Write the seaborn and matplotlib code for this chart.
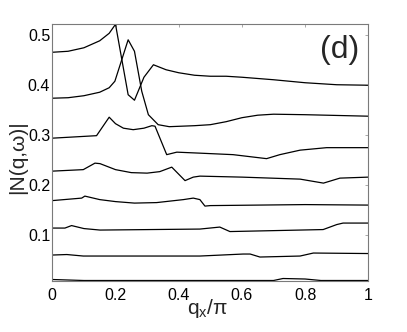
import numpy as np
import pandas as pd
import matplotlib
matplotlib.use("Agg")
import matplotlib.pyplot as plt
import seaborn as sns

# ---- data ----
x1 = [0.0, 0.05, 0.10, 0.15, 0.18, 0.20, 0.24, 0.26, 0.29, 0.32, 0.36, 0.40, 0.45, 0.50, 0.55, 0.60, 0.70, 0.80, 0.90, 1.0]
y1 = [0.465, 0.467, 0.474, 0.488, 0.503, 0.521, 0.380, 0.369, 0.415, 0.440, 0.430, 0.424, 0.419, 0.417, 0.417, 0.415, 0.410, 0.404, 0.400, 0.399]

x2 = [0.0, 0.05, 0.10, 0.15, 0.18, 0.198, 0.24, 0.26, 0.283, 0.304, 0.335, 0.37, 0.45, 0.50, 0.55, 0.60, 0.65, 0.70, 0.80, 1.0]
y2 = [0.373, 0.374, 0.378, 0.385, 0.394, 0.407, 0.490, 0.467, 0.387, 0.340, 0.320, 0.316, 0.318, 0.320, 0.326, 0.334, 0.339, 0.341, 0.340, 0.337]

x3 = [0.0, 0.14, 0.18, 0.20, 0.225, 0.256, 0.29, 0.315, 0.325, 0.362, 0.394, 0.467, 0.572, 0.678, 0.72, 0.784, 0.868, 1.0]
y3 = [0.293, 0.298, 0.335, 0.322, 0.313, 0.310, 0.313, 0.318, 0.317, 0.260, 0.265, 0.263, 0.260, 0.252, 0.260, 0.269, 0.274, 0.274]

x4 = [0.0, 0.098, 0.135, 0.151, 0.20, 0.25, 0.30, 0.34, 0.378, 0.42, 0.446, 0.467, 0.60, 0.784, 0.858, 0.91, 1.0]
y4 = [0.227, 0.230, 0.243, 0.242, 0.230, 0.224, 0.223, 0.226, 0.235, 0.208, 0.215, 0.217, 0.215, 0.211, 0.203, 0.213, 0.215]

x5 = [0.0, 0.093, 0.103, 0.15, 0.20, 0.26, 0.33, 0.415, 0.446, 0.467, 0.483, 0.50, 0.80, 1.0]
y5 = [0.168, 0.173, 0.177, 0.170, 0.166, 0.163, 0.164, 0.170, 0.173, 0.170, 0.157, 0.158, 0.160, 0.159]

x6 = [0.0, 0.04, 0.061, 0.10, 0.151, 0.467, 0.53, 0.562, 0.857, 0.90, 0.92, 1.0]
y6 = [0.113, 0.113, 0.118, 0.112, 0.109, 0.111, 0.115, 0.106, 0.110, 0.120, 0.123, 0.123]

x7 = [0.0, 0.046, 0.098, 0.467, 0.604, 0.626, 0.657, 0.784, 0.826, 1.0]
y7 = [0.059, 0.060, 0.057, 0.057, 0.061, 0.061, 0.055, 0.057, 0.063, 0.062]

x8 = [0.0, 0.10, 0.70, 0.73, 0.80, 0.85, 1.0]
y8 = [0.010, 0.008, 0.008, 0.012, 0.011, 0.008, 0.008]

xticks = [0, 0.2, 0.4, 0.6, 0.8, 1]
xticklabels = ["0", "0.2", "0.4", "0.6", "0.8", "1"]
yticks = [0.1, 0.2, 0.3, 0.4, 0.5]
yticklabels = ["0.1", "0.2", "0.3", "0.4", "0.5"]

curves = [(x1, y1), (x2, y2), (x3, y3), (x4, y4), (x5, y5), (x6, y6), (x7, y7), (x8, y8)]
frames = []
for i, (xs, ys) in enumerate(curves):
    frames.append(pd.DataFrame({"x": xs, "y": ys, "curve": i}))
df = pd.concat(frames, ignore_index=True)

# ---- styling ----
sns.set_style("white")
plt.rcParams["font.family"] = ["Liberation Sans", "DejaVu Sans"]
plt.rcParams["mathtext.fontset"] = "custom"
plt.rcParams["mathtext.rm"] = "Liberation Sans"
plt.rcParams["mathtext.it"] = "Liberation Sans"

fig = plt.figure(figsize=(4.07, 3.32), dpi=100)
ax = fig.add_axes([0.1285, 0.1536, 0.7765, 0.7732])

sns.lineplot(data=df, x="x", y="y", units="curve", estimator=None, sort=False,
             color="black", linewidth=0.9, ax=ax, legend=False)

ax.set_xlim(0, 1)
ax.set_ylim(0.007, 0.521)
ax.set_xticks(xticks)
ax.set_xticklabels(xticklabels)
ax.set_yticks(yticks)
ax.set_yticklabels(yticklabels)

for s in ax.spines.values():
    s.set_visible(True)
    s.set_color("#7a7a7a")
    s.set_linewidth(0.8)

ax.tick_params(axis="both", direction="in", length=2.5, width=0.6, color="#9a9a9a",
               top=True, right=True, labelsize=11.5, labelcolor="black")
ax.tick_params(axis="x", pad=5)
ax.tick_params(axis="y", pad=1.5)

ax.set_xlabel(r"q$_\mathrm{x}$/π", fontsize=15)
ax.xaxis.set_label_coords(0.49, -0.109)
ax.xaxis.label.set_va("center")

ax.set_ylabel("|N(q,ω)|", fontsize=15)
ax.yaxis.set_label_coords(-0.11, 0.483)
ax.yaxis.label.set_va("center")

ax.text(0.91, 0.90, "(d)", transform=ax.transAxes, ha="center", va="center", fontsize=23)

fig.savefig("out.png", dpi=100)
